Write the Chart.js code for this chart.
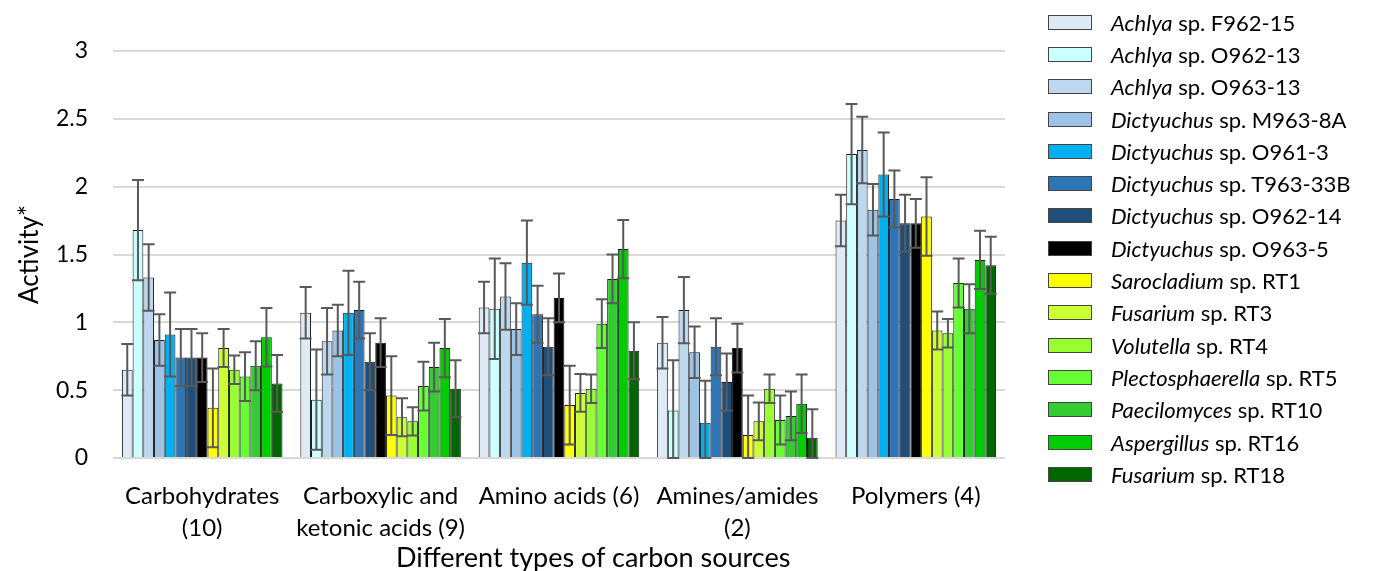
<!DOCTYPE html>
<html>
<head>
<meta charset="utf-8">
<script src="https://cdn.jsdelivr.net/npm/chart.js@4.4.1/dist/chart.umd.min.js"></script>
<style>
  html, body { margin: 0; padding: 0; background: #fff; }
  #wrap { position: relative; width: 1389px; height: 571px; }
  #legend { position: absolute; left: 1048px; top: 6px; font-family: Lato, sans-serif; font-size: 22px; color: #000; }
  .item { height: 32.3px; display: flex; align-items: center; white-space: nowrap; }
  .box { width: 42px; height: 13px; border: 1px solid #444; margin-right: 19px; }
  #xtitle { position: absolute; left: 396px; top: 540px; font-family: Lato, sans-serif; font-size: 27px; line-height: 34px; color: #000; white-space: nowrap; }
</style>
</head>
<body>
<div id="wrap">
  <canvas id="chart" width="1389" height="571"></canvas>
  <div id="legend"></div>
  <div id="xtitle"></div>
</div>
<script>
var categories = [['Carbohydrates', '(10)'], ['Carboxylic and', 'ketonic acids (9)'], ['Amino acids (6)'], ['Amines/amides', '(2)'], ['Polymers (4)']];
var xTitle = 'Different types of carbon sources';
var yTitle = 'Activity*';

var genus = ['Achlya', 'Achlya', 'Achlya', 'Dictyuchus', 'Dictyuchus', 'Dictyuchus', 'Dictyuchus', 'Dictyuchus',
    'Sarocladium', 'Fusarium', 'Volutella', 'Plectosphaerella', 'Paecilomyces', 'Aspergillus', 'Fusarium'];
var strain = ['F962-15', 'O962-13', 'O963-13', 'M963-8A', 'O961-3', 'T963-33B', 'O962-14', 'O963-5',
    'RT1', 'RT3', 'RT4', 'RT5', 'RT10', 'RT16', 'RT18'];
var colors = ['#DEEBF7', '#CCFFFF', '#BDD7EE', '#9DC3E6', '#00B0F0', '#2E75B6', '#1F4E79', '#000000',
    '#FFFF00', '#CCFF33', '#99FF33', '#66FF33', '#33CC33', '#00CC00', '#006600'];

// one value per strain, in legend order
var carbohydrates   = [0.65, 1.68, 1.33, 0.87, 0.91, 0.74, 0.74, 0.74, 0.37, 0.81, 0.65, 0.60, 0.68, 0.89, 0.55];
var carboxylicAcids = [1.07, 0.43, 0.86, 0.94, 1.07, 1.09, 0.71, 0.85, 0.46, 0.30, 0.27, 0.53, 0.67, 0.81, 0.51];
var aminoAcids      = [1.11, 1.10, 1.19, 0.95, 1.44, 1.06, 0.82, 1.18, 0.39, 0.48, 0.51, 0.99, 1.32, 1.54, 0.79];
var aminesAmides    = [0.85, 0.35, 1.09, 0.78, 0.26, 0.82, 0.56, 0.81, 0.17, 0.27, 0.51, 0.28, 0.31, 0.40, 0.15];
var polymers        = [1.75, 2.24, 2.27, 1.83, 2.09, 1.91, 1.73, 1.73, 1.78, 0.94, 0.92, 1.29, 1.10, 1.46, 1.42];
var errorSize       = [0.19, 0.37, 0.245, 0.19, 0.31, 0.21, 0.21, 0.18, 0.29, 0.14, 0.105, 0.18, 0.18, 0.215, 0.21];

var yTicks = [0, 0.5, 1, 1.5, 2, 2.5, 3];

var FONT = 'Lato, sans-serif';

var datasets = genus.map(function (g, i) {
    return {
        label: g + ' sp. ' + strain[i],
        data: [carbohydrates[i], carboxylicAcids[i], aminoAcids[i], aminesAmides[i], polymers[i]],
        err: errorSize[i],
        backgroundColor: colors[i],
        borderColor: '#1a1a1a',
        borderWidth: 1,
        barPercentage: 1,
        categoryPercentage: 0.9
    };
});

var errorBars = {
    id: 'errorBars',
    afterDatasetsDraw: function (chart) {
        var ctx = chart.ctx, y = chart.scales.y;
        ctx.save();
        ctx.strokeStyle = '#595959';
        ctx.lineWidth = 2;
        chart.data.datasets.forEach(function (ds, i) {
            var meta = chart.getDatasetMeta(i);
            meta.data.forEach(function (bar, j) {
                var v = ds.data[j];
                var top = y.getPixelForValue(v + ds.err);
                var bot = y.getPixelForValue(Math.max(0, v - ds.err));
                ctx.beginPath();
                ctx.moveTo(bar.x, top); ctx.lineTo(bar.x, bot);
                ctx.moveTo(bar.x - 6, top); ctx.lineTo(bar.x + 6, top);
                ctx.moveTo(bar.x - 6, bot); ctx.lineTo(bar.x + 6, bot);
                ctx.stroke();
            });
        });
        ctx.restore();
    }
};

new Chart(document.getElementById('chart').getContext('2d'), {
    type: 'bar',
    data: { labels: categories, datasets: datasets },
    plugins: [errorBars],
    options: {
        responsive: false,
        animation: false,
        layout: { padding: { top: 51, right: 384, left: 0, bottom: 0 } },
        plugins: { legend: { display: false }, tooltip: { enabled: false } },
        scales: {
            x: {
                grid: { display: false },
                border: { display: false },
                ticks: { color: '#000', font: { family: FONT, size: 24, lineHeight: 1.33 }, padding: 14, maxRotation: 0 },
                afterFit: function (s) { s.height = 113; }
            },
            y: {
                min: 0, max: 3,
                afterBuildTicks: function (s) { s.ticks = yTicks.map(function (v) { return { value: v }; }); },
                grid: { color: '#d9d9d9', lineWidth: 2, drawTicks: false },
                border: { display: false },
                ticks: { color: '#000', font: { family: FONT, size: 23 }, padding: 25, callback: function (v) { return String(v); } },
                title: { display: true, text: yTitle, color: '#000', font: { family: FONT, size: 26 }, padding: { top: 14, bottom: 0 } },
                afterFit: function (s) { s.width = 113; }
            }
        }
    }
});

document.getElementById('xtitle').textContent = xTitle;

var legend = document.getElementById('legend');
genus.forEach(function (g, i) {
    var row = document.createElement('div');
    row.className = 'item';
    row.innerHTML = '<span class="box" style="background:' + colors[i] + '"></span><span><i>' + g + '</i> sp. ' + strain[i] + '</span>';
    legend.appendChild(row);
});
</script>
</body>
</html>
